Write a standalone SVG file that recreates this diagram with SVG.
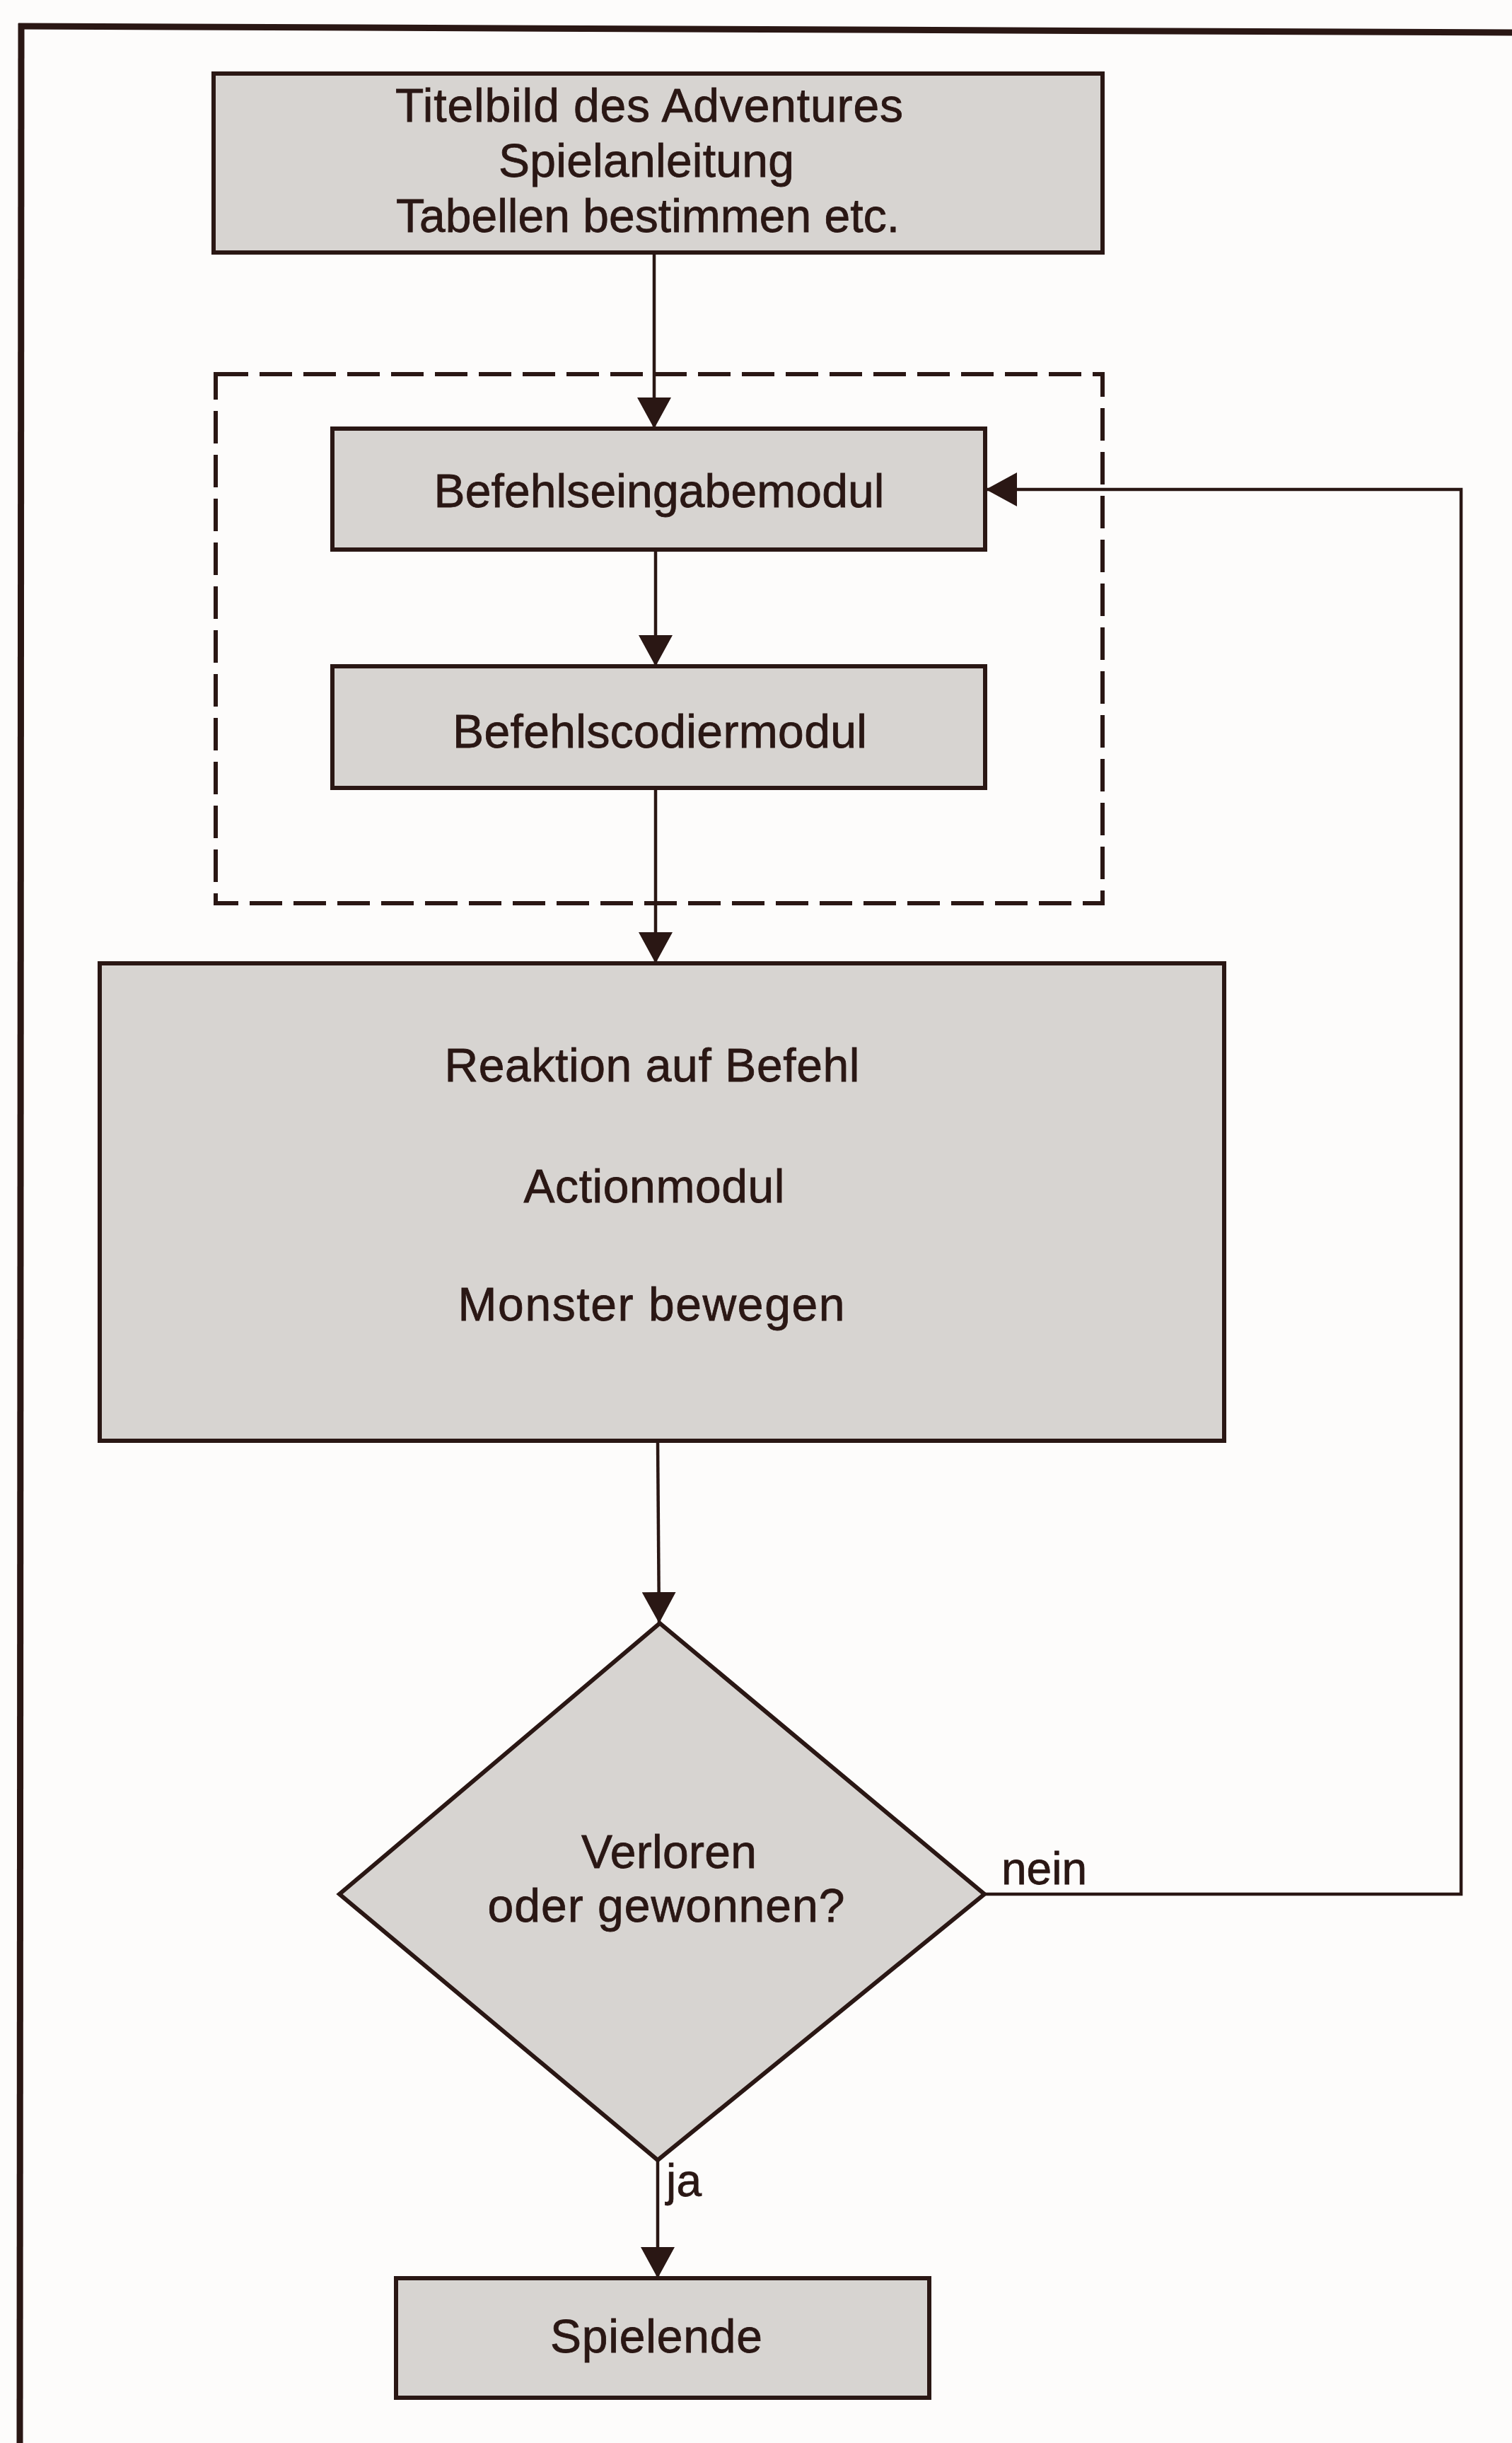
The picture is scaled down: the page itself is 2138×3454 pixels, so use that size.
<svg xmlns="http://www.w3.org/2000/svg" width="2138" height="3454" viewBox="0 0 2138 3454">
  <style>
    .box { fill: #d7d4d1; stroke: #2a1714; stroke-width: 6; }
    .lbl { font-family: "Liberation Sans", Arial, Helvetica, sans-serif; font-size: 66px; fill: #2a1714; stroke: #2a1714; stroke-width: 0.8; text-anchor: middle; }
    .side { font-family: "Liberation Sans", Arial, Helvetica, sans-serif; font-size: 64px; fill: #2a1714; stroke: #2a1714; stroke-width: 0.8; }
    .wire { fill: none; stroke: #2a1714; stroke-width: 4.5; }
    .frame { fill: none; stroke: #2a1714; stroke-width: 9; }
    .group { fill: none; stroke: #2a1714; stroke-width: 6; stroke-dasharray: 46 16; }
  </style>
  <defs>
    <marker id="head" viewBox="0 0 44 48" refX="44" refY="24" markerWidth="44" markerHeight="48" markerUnits="userSpaceOnUse" orient="auto">
      <path d="M0,0 L44,24 L0,48 Z" fill="#2a1714"/>
    </marker>
  </defs>

  <!-- page background -->
  <rect x="0" y="0" width="2138" height="3454" fill="#fdfcfb"/>

  <!-- page frame (top and left rules) -->
  <g id="frame">
    <line class="frame" x1="26" y1="37" x2="2138" y2="46"/>
    <line class="frame" x1="30" y1="33" x2="28" y2="3454"/>
  </g>

  <!-- dashed grouping around the command input / coding modules -->
  <g id="command-group">
    <rect class="group" x="305" y="529" width="1254" height="748"/>
  </g>

  <!-- connectors -->
  <g id="connectors">
    <line class="wire" x1="925" y1="357" x2="925" y2="606" marker-end="url(#head)"/>
    <line class="wire" x1="927" y1="777" x2="927" y2="942" marker-end="url(#head)"/>
    <line class="wire" x1="927" y1="1114" x2="927" y2="1362" marker-end="url(#head)"/>
    <line class="wire" x1="930" y1="2037" x2="932" y2="2295" marker-end="url(#head)"/>
    <line class="wire" x1="930" y1="3054" x2="930" y2="3221" marker-end="url(#head)"/>
    <polyline class="wire" points="1392,2678 2066,2678 2066,692 1394,692" marker-end="url(#head)"/>
  </g>

  <g id="start">
    <rect class="box" x="302" y="104" width="1257" height="253"/>
    <text class="lbl" x="918" y="172" textLength="718" lengthAdjust="spacing">Titelbild des Adventures</text>
    <text class="lbl" x="914" y="250" textLength="418" lengthAdjust="spacing">Spielanleitung</text>
    <text class="lbl" x="916" y="328" textLength="712" lengthAdjust="spacing">Tabellen bestimmen etc.</text>
  </g>

  <g id="input">
    <rect class="box" x="470" y="606" width="923" height="171"/>
    <text class="lbl" x="932" y="717" textLength="637" lengthAdjust="spacing">Befehlseingabemodul</text>
  </g>

  <g id="coding">
    <rect class="box" x="470" y="942" width="923" height="172"/>
    <text class="lbl" x="933" y="1057" textLength="586" lengthAdjust="spacing">Befehlscodiermodul</text>
  </g>

  <g id="action">
    <rect class="box" x="141" y="1362" width="1590" height="675"/>
    <text class="lbl" x="922" y="1529" textLength="587" lengthAdjust="spacing">Reaktion auf Befehl</text>
    <text class="lbl" x="925" y="1700" textLength="369" lengthAdjust="spacing">Actionmodul</text>
    <text class="lbl" x="921" y="1867" textLength="547" lengthAdjust="spacing">Monster bewegen</text>
  </g>

  <g id="decision">
    <polygon class="box" points="933,2295 1392,2678 930,3054 480,2678"/>
    <text class="lbl" x="946" y="2641" textLength="248" lengthAdjust="spacing">Verloren</text>
    <text class="lbl" x="942" y="2717" textLength="505" lengthAdjust="spacing">oder gewonnen?</text>
  </g>

  <g id="branch-labels">
    <text class="side" x="1416" y="2664" textLength="121" lengthAdjust="spacing">nein</text>
    <text class="side" x="942" y="3105" textLength="50" lengthAdjust="spacing">ja</text>
  </g>

  <g id="end">
    <rect class="box" x="560" y="3221" width="754" height="169"/>
    <text class="lbl" x="928" y="3326" textLength="300" lengthAdjust="spacing">Spielende</text>
  </g>
</svg>
